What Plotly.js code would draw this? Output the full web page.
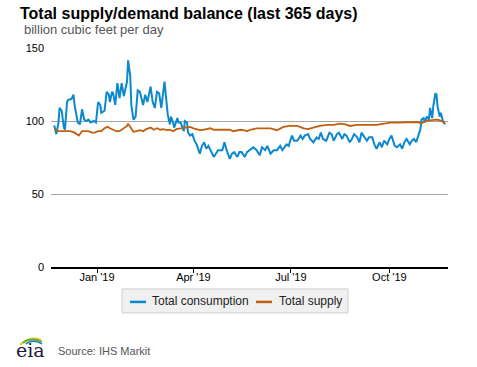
<!DOCTYPE html>
<html>
<head>
<meta charset="utf-8">
<script src="https://cdn.plot.ly/plotly-3.0.1.min.js"></script>
<style>html,body{margin:0;padding:0;background:#fff;}#chart{width:477px;height:367px;}</style>
</head>
<body>
<div id="chart"></div>
<script>
// Total consumption (Bcf/d)
var consDates = ['2018-11-22','2018-11-24','2018-11-26','2018-11-27','2018-11-29','2018-12-01','2018-12-02','2018-12-04','2018-12-05','2018-12-08','2018-12-10','2018-12-11','2018-12-14','2018-12-16','2018-12-18','2018-12-20','2018-12-22','2018-12-24','2018-12-26','2018-12-29','2018-12-31',
'2019-01-02','2019-01-04','2019-01-05','2019-01-08','2019-01-10','2019-01-12','2019-01-13','2019-01-15','2019-01-16','2019-01-18','2019-01-20','2019-01-22','2019-01-24','2019-01-26','2019-01-29','2019-01-30',
'2019-02-01','2019-02-02','2019-02-04','2019-02-06','2019-02-08','2019-02-10','2019-02-13','2019-02-15','2019-02-17','2019-02-20','2019-02-22','2019-02-24','2019-02-26','2019-02-28',
'2019-03-02','2019-03-05','2019-03-06','2019-03-08','2019-03-10','2019-03-11','2019-03-13','2019-03-14','2019-03-17','2019-03-18','2019-03-20','2019-03-21','2019-03-23','2019-03-24','2019-03-26','2019-03-27','2019-03-29','2019-03-31',
'2019-04-02','2019-04-04','2019-04-07','2019-04-09','2019-04-11','2019-04-13','2019-04-15','2019-04-17','2019-04-20','2019-04-22','2019-04-24','2019-04-28','2019-04-30',
'2019-05-02','2019-05-05','2019-05-07','2019-05-09','2019-05-12','2019-05-14','2019-05-16','2019-05-19','2019-05-21','2019-05-23','2019-05-27','2019-05-30',
'2019-06-02','2019-06-04','2019-06-07','2019-06-09','2019-06-12','2019-06-15','2019-06-18','2019-06-21','2019-06-23','2019-06-27','2019-06-29','2019-06-30',
'2019-07-02','2019-07-04','2019-07-07','2019-07-10','2019-07-12','2019-07-14','2019-07-17','2019-07-19','2019-07-22','2019-07-25','2019-07-27','2019-07-29','2019-07-31',
'2019-08-03','2019-08-06','2019-08-08','2019-08-10','2019-08-13','2019-08-15','2019-08-18','2019-08-20','2019-08-22','2019-08-25','2019-08-27','2019-08-29',
'2019-09-01','2019-09-03','2019-09-05','2019-09-08','2019-09-10','2019-09-12','2019-09-15','2019-09-17','2019-09-19','2019-09-22','2019-09-24','2019-09-26','2019-09-29',
'2019-10-01','2019-10-03','2019-10-06','2019-10-08','2019-10-11','2019-10-13','2019-10-15','2019-10-17','2019-10-20','2019-10-22','2019-10-24','2019-10-26','2019-10-28','2019-10-30','2019-10-31',
'2019-11-02','2019-11-03','2019-11-05','2019-11-07','2019-11-08','2019-11-10','2019-11-11','2019-11-13','2019-11-14','2019-11-15','2019-11-17','2019-11-18','2019-11-20','2019-11-22'];
var consValues = [97,91,99,109,107,95.5,94,113,114.5,115,118,111,99,97.7,108,101,100,101,99,100,99,
113,111,105.6,107,120,118,113,120,119,111,126,115.7,126,117,127,141.5,
131,111,101,103,121,120,111,118,113,123.5,113,109,120,119,
109,127,118,104.5,97.7,103,99,95.5,102,99,99,96.6,93,100,99,92,90,91,
86.5,84,77.6,83,85.4,81,83,80,75.4,77.6,80,80,85.4,
80,74,77.6,78.7,75.4,78.7,78.7,75.4,78.7,80,82,80,
76.5,82,80,83,77.6,80,80,83,80,84,83,85.4,
90,86.5,86.5,90,87.7,90,91,87.7,85.4,88.8,87.7,92,87.7,
86.5,92,91,86.5,91,92,87.7,91,90,85.4,87.7,91,
88.8,85.4,92,88.8,86.5,88.8,88.8,84,81,85.4,82,86.5,84,
87.7,90,83,82,84,81,85.4,87.7,84,86.5,87.7,85.4,90,94.4,101,
102,99,103,101,109,102,110,119,118,110,103,105.6,100,97.7];

// Total supply (Bcf/d)
var supplyDates = ['2018-11-22','2018-11-26','2018-12-01','2018-12-07','2018-12-11','2018-12-15','2018-12-18','2018-12-21','2018-12-24','2018-12-27','2018-12-30',
'2019-01-02','2019-01-05','2019-01-08','2019-01-11','2019-01-13','2019-01-16','2019-01-19','2019-01-22','2019-01-26','2019-01-29','2019-01-30',
'2019-02-02','2019-02-04','2019-02-07','2019-02-10','2019-02-13','2019-02-16','2019-02-20','2019-02-23','2019-02-26',
'2019-03-01','2019-03-04','2019-03-07','2019-03-10','2019-03-13','2019-03-16','2019-03-20','2019-03-23','2019-03-26','2019-03-29',
'2019-04-01','2019-04-04','2019-04-07','2019-04-10','2019-04-13','2019-04-17','2019-04-20','2019-04-23','2019-04-26','2019-04-29',
'2019-05-02','2019-05-05','2019-05-08','2019-05-12','2019-05-15','2019-05-18','2019-05-21','2019-05-24','2019-05-30',
'2019-06-05','2019-06-12','2019-06-18','2019-06-24','2019-06-30','2019-07-07','2019-07-13','2019-07-17','2019-07-22','2019-07-28',
'2019-08-04','2019-08-10','2019-08-16','2019-08-21','2019-08-25','2019-09-01','2019-09-07','2019-09-13','2019-09-19','2019-09-26',
'2019-10-02','2019-10-08','2019-10-14','2019-10-20','2019-10-27','2019-10-31','2019-11-04','2019-11-08','2019-11-13','2019-11-16','2019-11-19','2019-11-22'];
var supplyValues = [94.4,93,93,93,92,90,93,93,93,92,92,
93,93,95,96,95,94,93,93,95,96.6,98.2,
95,92.6,93,93.7,93,94.4,95.5,94,95,
94,94.4,93.7,94,93,94.4,95,95.5,96,96,
95,94.4,93.7,94,94.4,95,94,94,94,94.4,
94,94,93,93.7,94,93.7,93,94,95,
95,95,93.7,96,96.6,96.6,95,94.4,95.5,96.6,
97.3,97.3,98.2,97.7,96.6,97.3,97.3,97.3,97.3,98.2,
98.9,98.9,99.1,99.5,99.3,98.4,100,100.4,101,100.7,100,98.9];

var seriesNames = ['Total consumption','Total supply'];
var seriesColors = ['#0b88cf','#c0600f'];
var tickVals = ['2019-01-01','2019-04-01','2019-07-01','2019-10-01'];
var tickText = ["Jan '19","Apr '19","Jul '19","Oct '19"];
var yTicks = [0,50,100,150];

var traces = [
  {x: consDates, y: consValues, type:'scatter', mode:'lines', name:seriesNames[0],
   line:{color:seriesColors[0], width:2}},
  {x: supplyDates, y: supplyValues, type:'scatter', mode:'lines', name:seriesNames[1],
   line:{color:seriesColors[1], width:1.8}}
];

function px(x){ return (x-51)/397; }
function py(y){ return (267-y)/219.5; }

var layout = {
  width:477, height:367,
  margin:{l:51, r:29, t:47.5, b:100, pad:0},
  paper_bgcolor:'#fff', plot_bgcolor:'#fff',
  font:{family:'Arial, "Liberation Sans", sans-serif', color:'#000', size:11},
  showlegend:false,
  xaxis:{type:'date', range:['2018-11-19','2019-11-24 18:00'], tickvals:tickVals, ticktext:tickText,
    showgrid:false, zeroline:false, showline:true, linecolor:'#000', linewidth:1.5,
    ticks:'outside', ticklen:4, tickcolor:'#000', tickwidth:1, ticklabelstandoff:-5,
    tickfont:{size:11, color:'#000'}},
  yaxis:{range:[0,150], tickvals:yTicks, showgrid:true, gridcolor:'#a6a6a6', gridwidth:1,
    zeroline:false, showline:false, ticks:'', ticklabelstandoff:6, tickfont:{size:11, color:'#000'}},
  annotations:[
    {text:'<b>Total supply/demand balance (last 365 days)</b>', xref:'paper', yref:'paper',
     x:px(18), y:py(13), xanchor:'left', yanchor:'middle', showarrow:false,
     font:{size:16, color:'#000'}},
    {text:'billion cubic feet per day', xref:'paper', yref:'paper',
     x:px(22), y:py(29), xanchor:'left', yanchor:'middle', showarrow:false,
     font:{size:13, color:'#555'}},
    {text:seriesNames[0], xref:'paper', yref:'paper',
     x:px(150), y:py(301.5), xanchor:'left', yanchor:'middle', showarrow:false,
     font:{size:12, color:'#222'}},
    {text:seriesNames[1], xref:'paper', yref:'paper',
     x:px(277), y:py(301.5), xanchor:'left', yanchor:'middle', showarrow:false,
     font:{size:12, color:'#222'}},
    {text:'Source: IHS Markit', xref:'paper', yref:'paper',
     x:px(56), y:py(351), xanchor:'left', yanchor:'middle', showarrow:false,
     font:{size:11, color:'#555'}},
    {text:'eia', xref:'paper', yref:'paper',
     x:px(30), y:py(350), xanchor:'center', yanchor:'middle', showarrow:false,
     font:{size:19, color:'#1a1a3a', family:'"DejaVu Serif", "Liberation Serif", serif'}}
  ],
  shapes:[
    {type:'rect', xref:'paper', yref:'paper', x0:px(122), x1:px(348), y0:py(289), y1:py(313),
     fillcolor:'#f0f0f0', line:{color:'#cccccc', width:1}},
    {type:'line', xref:'paper', yref:'paper', x0:px(130), x1:px(146), y0:py(302), y1:py(302),
     line:{color:seriesColors[0], width:2.5}},
    {type:'line', xref:'paper', yref:'paper', x0:px(256), x1:px(272), y0:py(302), y1:py(302),
     line:{color:seriesColors[1], width:2.5}},
    {type:'path', xref:'paper', yref:'paper', line:{color:'#f2c81a', width:2},
     path:'M '+px(20)+','+py(345)+' Q '+px(30)+','+py(336)+' '+px(41)+','+py(340)},
    {type:'path', xref:'paper', yref:'paper', line:{color:'#5db043', width:2},
     path:'M '+px(23)+','+py(343)+' Q '+px(31)+','+py(337)+' '+px(42)+','+py(342)},
    {type:'path', xref:'paper', yref:'paper', line:{color:'#1b75bc', width:1.5},
     path:'M '+px(26)+','+py(344)+' Q '+px(33)+','+py(339)+' '+px(42)+','+py(344)}
  ]
};

Plotly.newPlot('chart', traces, layout, {displayModeBar:false, staticPlot:true});
</script>
</body>
</html>
